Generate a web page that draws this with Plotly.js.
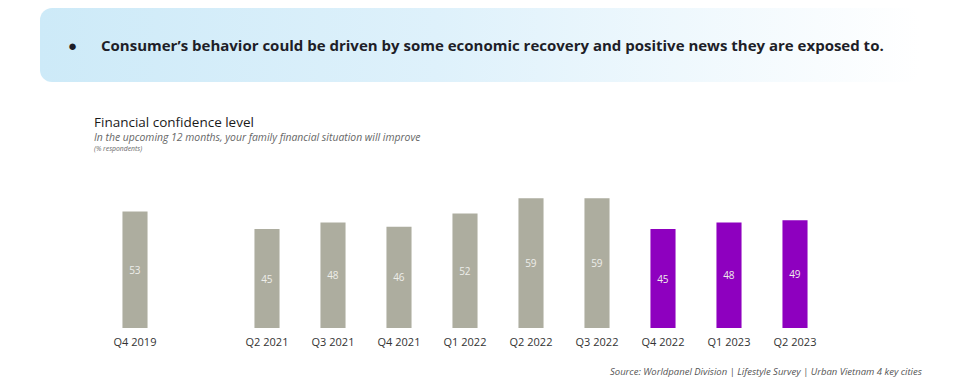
<!DOCTYPE html>
<html>
<head>
<meta charset="utf-8">
<script src="https://cdn.plot.ly/plotly-3.0.1.min.js"></script>
<style>
  html, body { margin:0; padding:0; background:#fff; }
  #wrap { position:relative; width:960px; height:387px; overflow:hidden; }
  #banner { position:absolute; left:40px; top:8px; width:880px; height:74px; border-radius:12px;
            background: linear-gradient(90deg, #cdeaf8 0%, #def1fb 45%, #ffffff 100%); }
  #banner span { position:absolute; top:27px; font-family:"Open Sans", sans-serif; font-weight:700; font-size:15px; color:#1e1e28; white-space:nowrap; }
  #chart { position:absolute; left:0; top:0; width:960px; height:387px; }
</style>
</head>
<body>
<div id="wrap">
  <div id="banner"><span style="left:28px">●</span><span id="msg" style="left:61px">Consumer’s behavior could be driven by some economic recovery and positive news they are exposed to.</span></div>
  <div id="chart"></div>
</div>
<script>
const categories = ["Q4 2019", " ", "Q2 2021", "Q3 2021", "Q4 2021", "Q1 2022", "Q2 2022", "Q3 2022", "Q4 2022", "Q1 2023", "Q2 2023"];
const values = [53, null, 45, 48, 46, 52, 59, 59, 45, 48, 49];
const isRecent = [false, false, false, false, false, false, false, false, true, true, true];

const grey = "#adad9f";
const purple = "#8e00bf";
const barColors = isRecent.map(r => r ? purple : grey);
const FONT = "'Open Sans', sans-serif";

const trace = {
  type: "bar",
  x: categories,
  y: values,
  marker: { color: barColors },
  width: 0.38,
  text: values.map(v => v === null ? "" : String(v)),
  textposition: "inside",
  insidetextanchor: "middle",
  textangle: 0,
  textfont: { family: FONT, size: 10, color: "#eeeeea" },
  hoverinfo: "skip",
  cliponaxis: false
};

const layout = {
  width: 960, height: 387,
  paper_bgcolor: "rgba(0,0,0,0)",
  plot_bgcolor: "rgba(0,0,0,0)",
  margin: { l: 102, r: 132, t: 174, b: 59 },
  showlegend: false,
  xaxis: {
    type: "category",
    categoryorder: "array",
    categoryarray: categories,
    range: [-0.5, 10.5],
    showgrid: false, zeroline: false, showline: false,
    ticks: "",
    ticklabelstandoff: 6,
    tickfont: { family: FONT, size: 11, color: "#333333" },
    fixedrange: true
  },
  yaxis: {
    range: [0, 70],
    visible: false,
    fixedrange: true
  },
  annotations: [
    { xref: "paper", yref: "paper", x: -0.0137, y: 1.337, xanchor: "left", yanchor: "middle", showarrow: false,
      text: "Financial confidence level", font: { family: FONT, size: 13.5, color: "#1a1a1a" } },
    { xref: "paper", yref: "paper", x: -0.0137, y: 1.239, xanchor: "left", yanchor: "middle", showarrow: false,
      text: "<i>In the upcoming 12 months, your family financial situation will improve</i>", font: { family: FONT, size: 10.4, color: "#666666" } },
    { xref: "paper", yref: "paper", x: -0.0137, y: 1.165, xanchor: "left", yanchor: "middle", showarrow: false,
      text: "<i>(% respondents)</i>", font: { family: FONT, size: 6.8, color: "#666666" } },
    { xref: "paper", yref: "paper", x: 1.132, y: -0.28, xanchor: "right", yanchor: "middle", showarrow: false,
      text: "<i>Source: Worldpanel Division | Lifestyle Survey | Urban Vietnam 4 key cities</i>",
      font: { family: FONT, size: 9.5, color: "#555555" } }
  ]
};

Plotly.newPlot("chart", [trace], layout, { displayModeBar: false, staticPlot: true });
</script>
</body>
</html>
